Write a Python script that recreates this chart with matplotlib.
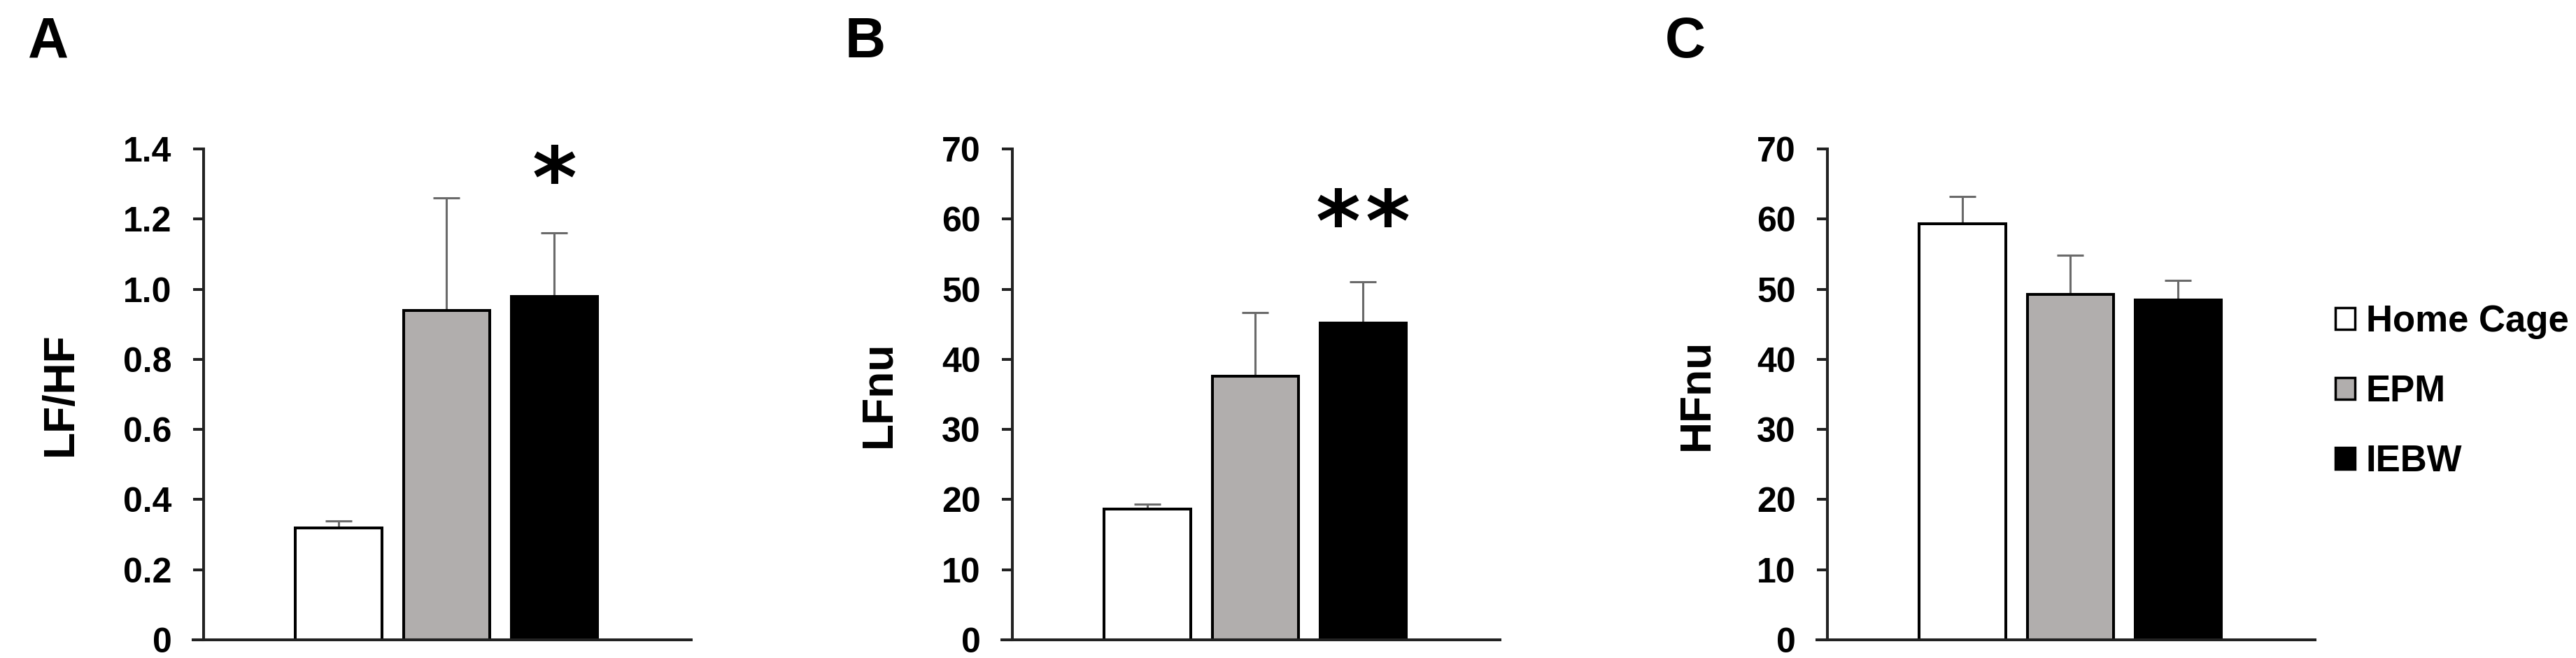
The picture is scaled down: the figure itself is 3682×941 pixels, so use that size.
import numpy as np
import matplotlib
matplotlib.use("Agg")
from matplotlib import pyplot as plt
from matplotlib.patches import Patch
from matplotlib import rcParams

rcParams['font.family'] = ['Liberation Sans', 'DejaVu Sans']
rcParams['font.weight'] = 'bold'

# data
groups = ["Home Cage", "EPM", "IEBW"]
colors = ["#ffffff", "#b1aead", "#000000"]

lfhf_mean = [0.32, 0.94, 0.98]
lfhf_err = [0.02, 0.32, 0.18]

lfnu_mean = [18.6, 37.6, 45.2]
lfnu_err = [0.7, 9.1, 5.9]

hfnu_mean = [59.3, 49.3, 48.5]
hfnu_err = [3.9, 5.5, 2.8]

# significance stars (count, height) over the IEBW bar
panels = [
    ("A", "LF/HF", lfhf_mean, lfhf_err, 1.4, [0, 0.2, 0.4, 0.6, 0.8, 1.0, 1.2, 1.4],
     ["0", "0.2", "0.4", "0.6", "0.8", "1.0", "1.2", "1.4"], 1, 1.30),
    ("B", "LFnu", lfnu_mean, lfnu_err, 70, list(range(0, 80, 10)),
     [str(v) for v in range(0, 80, 10)], 2, 58.8),
    ("C", "HFnu", hfnu_mean, hfnu_err, 70, list(range(0, 80, 10)),
     [str(v) for v in range(0, 80, 10)], 0, 0),
]

W, H = 3682, 941
fig = plt.figure(figsize=(W / 100, H / 100), dpi=100)

# pixel layout: axes left edge, width, label x, panel letter x
ax_left = [276, 1432, 2597]
ax_w = 712
label_x = [116, 1285, 2454]
letter_x = [40, 1208, 2380]
y_bottom, y_top = 915, 213

x = np.arange(3)
for i, (letter, ylab, mean, err, ymax, ticks, ticklabels, nstar, star_y) in enumerate(panels):
    ax = fig.add_axes([ax_left[i] / W, (H - y_bottom) / H, ax_w / W, (y_bottom - y_top) / H])
    ax.bar(x, mean, width=0.8, color=colors, edgecolor='black', linewidth=2.9, zorder=2)
    ax.errorbar(x, mean, yerr=[np.zeros(3), err], fmt='none', ecolor='#6a6a6a',
                elinewidth=2.2, capsize=14, capthick=2.2, zorder=1)
    ax.set_xlim(-1.35, 3.27)
    ax.set_ylim(0, ymax)
    ax.spines['left'].set_position(('data', -1.25))
    ax.spines['right'].set_visible(False)
    ax.spines['top'].set_visible(False)
    for s in ['left', 'bottom']:
        ax.spines[s].set_linewidth(2.9)
        ax.spines[s].set_color('#222222')
    ax.set_xticks([])
    ax.set_yticks(ticks)
    ax.set_yticklabels(ticklabels)
    ax.tick_params(axis='y', direction='out', length=11, width=2.9, pad=22,
                   labelsize=36, color='#222222')
    for t in ax.get_yticklabels():
        t.set_fontweight('bold')
    ax.set_ylabel(ylab, fontsize=45, fontweight='bold')
    ax.yaxis.set_label_coords((label_x[i] - ax_left[i]) / ax_w, 0.5)
    for k in range(nstar):
        sx = 2 + (k - (nstar - 1) / 2) * 0.46
        ax.text(sx, star_y, "*", ha='center', va='center', fontsize=88,
                family='DejaVu Sans', fontweight='bold')
    fig.text(letter_x[i] / W, 1 - 82 / H, letter, fontsize=58, fontweight='bold',
             ha='left', va='baseline')

handles = [Patch(facecolor=c, edgecolor='black', linewidth=2.5) for c in colors]
fig.legend(handles, groups, loc='center left', bbox_to_anchor=(3338 / W, 1 - 560 / H),
           frameon=False, handlelength=0.53, handleheight=0.53,
           handletextpad=0.3, labelspacing=0.95, borderpad=0, borderaxespad=0,
           prop={'weight': 'bold', 'size': 38})

fig.savefig("out.png", dpi=100)
